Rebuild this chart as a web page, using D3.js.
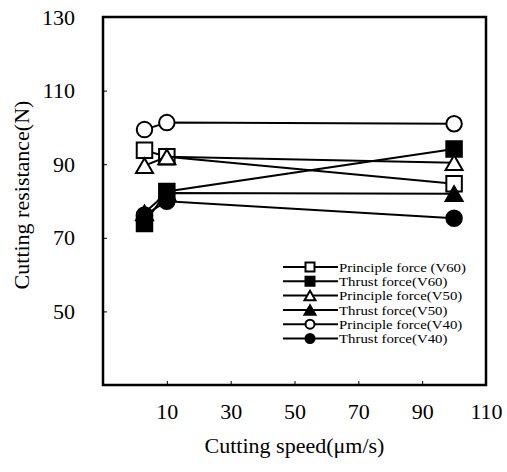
<!DOCTYPE html>
<html>
<head>
<meta charset="utf-8">
<script src="https://cdn.jsdelivr.net/npm/d3@7"></script>
<style>
  body { margin: 0; background: #fff; }
  svg { display: block; }
  text { font-family: "Liberation Serif", "Times New Roman", serif; fill: #000; }
</style>
</head>
<body>
<div id="chart"></div>
<script>
// data
var speeds = [3, 10, 100];
var seriesNames = [
    'Principle force (V60)', 'Thrust force(V60)',
    'Principle force(V50)', 'Thrust force(V50)',
    'Principle force(V40)', 'Thrust force(V40)'
];
var principleV60 = [93.8, 92.0, 84.7];
var thrustV60 = [73.9, 82.6, 94.1];
var principleV50 = [89.6, 92.0, 90.4];
var thrustV50 = [76.8, 82.2, 82.0];
var principleV40 = [99.4, 101.3, 101.0];
var thrustV40 = [76.2, 79.9, 75.3];
var xTicks = [10, 30, 50, 70, 90, 110];
var yTicks = [50, 70, 90, 110, 130];

var width = 507, height = 472;
var plotLeft = 103, plotRight = 486, plotTop = 17, plotBottom = 385;

var series = [
    {name: seriesNames[0], values: principleV60, shape: 'square', filled: false},
    {name: seriesNames[1], values: thrustV60, shape: 'square', filled: true},
    {name: seriesNames[2], values: principleV50, shape: 'triangle', filled: false},
    {name: seriesNames[3], values: thrustV50, shape: 'triangle', filled: true},
    {name: seriesNames[4], values: principleV40, shape: 'circle', filled: false},
    {name: seriesNames[5], values: thrustV40, shape: 'circle', filled: true}
];

// triangle centred on its bounding box
var triangleType = {
    draw: function(context, size) {
        var w = Math.sqrt(size * 4 / Math.sqrt(3));
        var h = w * Math.sqrt(3) / 2;
        context.moveTo(0, -h / 2);
        context.lineTo(w / 2, h / 2);
        context.lineTo(-w / 2, h / 2);
        context.closePath();
    }
};

function symbolFor(shape, side) {
    if (shape === 'square') return d3.symbol(d3.symbolSquare, side * side);
    if (shape === 'circle') return d3.symbol(d3.symbolCircle, Math.PI * side * side / 4);
    return d3.symbol(triangleType, side * side * Math.sqrt(3) / 4);
}

var x = d3.scaleLinear().domain([-10, 110]).range([plotLeft, plotRight]);
var y = d3.scaleLinear().domain([30, 130]).range([plotBottom, plotTop]);

var svg = d3.select('#chart').append('svg')
    .attr('width', width)
    .attr('height', height);

// axes
var yAxis = svg.append('g')
    .attr('transform', 'translate(' + plotLeft + ',0)')
    .call(d3.axisLeft(y).tickValues(yTicks).tickSizeInner(-4).tickSizeOuter(0).tickPadding(28));
var xAxis = svg.append('g')
    .attr('transform', 'translate(0,' + plotBottom + ')')
    .call(d3.axisBottom(x).tickValues(xTicks).tickSizeInner(-4).tickSizeOuter(0).tickPadding(18));

[yAxis, xAxis].forEach(function(g) {
    g.select('.domain').remove();
    g.selectAll('line').attr('stroke', '#000').attr('stroke-width', 1);
    g.selectAll('text').style('font-size', '22px').attr('fill', '#000')
        .style('font-family', '"Liberation Serif", serif');
});

svg.append('rect')
    .attr('x', plotLeft).attr('y', plotTop)
    .attr('width', plotRight - plotLeft).attr('height', plotBottom - plotTop)
    .attr('fill', 'none').attr('stroke', '#000').attr('stroke-width', 2.5);

// axis titles
svg.append('text')
    .attr('x', (plotLeft + plotRight) / 2).attr('y', 453)
    .attr('text-anchor', 'middle')
    .style('font-size', '22px')
    .text('Cutting speed(\u03bcm/s)');
svg.append('text')
    .attr('transform', 'translate(29,195) rotate(-90)')
    .attr('text-anchor', 'middle')
    .style('font-size', '22px')
    .text('Cutting resistance(N)');

// series
var line = d3.line()
    .x(function(d, i) { return x(speeds[i]); })
    .y(function(d) { return y(d); });

series.forEach(function(s) {
    var g = svg.append('g');
    g.append('path')
        .attr('d', line(s.values))
        .attr('fill', 'none')
        .attr('stroke', '#000')
        .attr('stroke-width', 2);
    g.selectAll('path.mark')
        .data(s.values)
        .enter().append('path')
        .attr('class', 'mark')
        .attr('transform', function(d, i) { return 'translate(' + x(speeds[i]) + ',' + y(d) + ')'; })
        .attr('d', symbolFor(s.shape, s.shape === 'triangle' ? 17 : 15.5))
        .attr('fill', s.filled ? '#000' : '#fff')
        .attr('stroke', '#000')
        .attr('stroke-width', 2);
});

// legend
var legend = svg.append('g').attr('transform', 'translate(283,267)');
var rows = legend.selectAll('g')
    .data(series)
    .enter().append('g')
    .attr('transform', function(d, i) { return 'translate(0,' + (i * 14.3) + ')'; });
rows.append('line')
    .attr('x1', 0).attr('x2', 55)
    .attr('stroke', '#000').attr('stroke-width', 2);
rows.append('path')
    .attr('transform', 'translate(27,0)')
    .attr('d', function(d) { return symbolFor(d.shape, d.shape === 'triangle' ? 11 : 9)(); })
    .attr('fill', function(d) { return d.filled ? '#000' : '#fff'; })
    .attr('stroke', '#000')
    .attr('stroke-width', 2);
rows.append('text')
    .attr('transform', 'translate(56,0) scale(1.1,1)')
    .attr('dy', '0.35em')
    .style('font-size', '13.5px')
    .text(function(d) { return d.name; });
</script>
</body>
</html>
